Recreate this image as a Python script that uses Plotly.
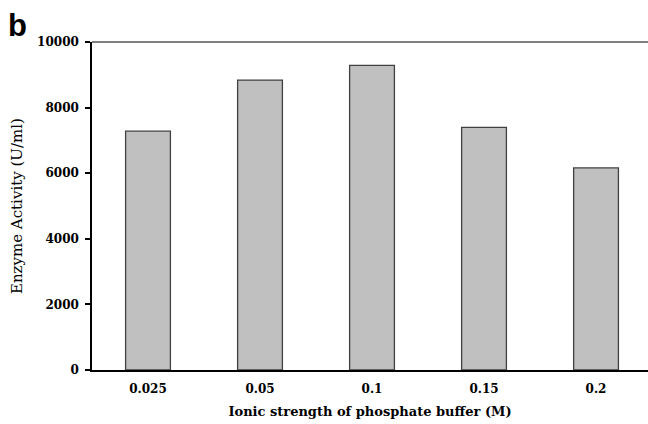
import plotly.graph_objects as go

categories = ["0.025", "0.05", "0.1", "0.15", "0.2"]
activity = [7280, 8840, 9290, 7400, 6160]
y_ticks = [0, 2000, 4000, 6000, 8000, 10000]
y_tick_text = ["0", "2000", "4000", "6000", "8000", "10000"]

L, R, T, B = 92, 0, 42, 54
W, H = 648, 424
PW, PH = W - L - R, H - T - B

fig = go.Figure()
fig.add_trace(go.Bar(
    x=list(range(len(categories))),
    y=activity,
    width=0.4,
    marker=dict(color="#c0c0c0", line=dict(color="#404040", width=1.3)),
))

fig.update_layout(
    width=W, height=H,
    margin=dict(l=L, r=R, t=T, b=B),
    paper_bgcolor="white", plot_bgcolor="white",
    showlegend=False,
    xaxis=dict(
        automargin=False,
        range=[-0.5, 4.464],
        tickmode="array",
        tickvals=list(range(len(categories))),
        ticktext=categories,
        showline=True, linecolor="black", linewidth=1.5,
        ticks="", showgrid=False, zeroline=False,
        ticklabelstandoff=7,
        tickfont=dict(family="DejaVu Serif", size=12, color="black", weight="bold"),
        title=dict(text="Ionic strength of phosphate buffer (M)",
                   font=dict(family="DejaVu Serif", size=13, color="black", weight="bold"),
                   standoff=12),
    ),
    yaxis=dict(
        automargin=False,
        range=[0, 10000],
        tickmode="array", tickvals=y_ticks, ticktext=y_tick_text,
        showline=True, linecolor="black", linewidth=1.5,
        ticks="outside", ticklen=5, tickcolor="black", tickwidth=1.5,
        ticklabelstandoff=4,
        showgrid=False, zeroline=False,
        tickfont=dict(family="DejaVu Serif", size=12, color="black", weight="bold"),
    ),
)

# top border line of the plot frame
fig.add_shape(type="line", xref="paper", yref="paper", x0=0, x1=1, y0=1, y1=1,
              line=dict(color="#555555", width=1.5))

# y-axis title
fig.add_annotation(text="Enzyme Activity (U/ml)", xref="paper", yref="paper",
                   x=-(L - 17) / PW, y=0.5, textangle=-90,
                   xanchor="center", yanchor="middle", showarrow=False,
                   font=dict(family="DejaVu Serif", size=15, color="black"))

# panel letter
fig.add_annotation(text="<b>b</b>", xref="paper", yref="paper",
                   x=-(L - 6) / PW, y=1 + (T - 6) / PH, xanchor="left", yanchor="top",
                   showarrow=False,
                   font=dict(family="Liberation Sans", size=31, color="black"))

fig.write_html(
    "out.html",
    config={"displayModeBar": False},
    post_script="document.body.style.margin='0px';document.body.style.padding='0px';",
)
